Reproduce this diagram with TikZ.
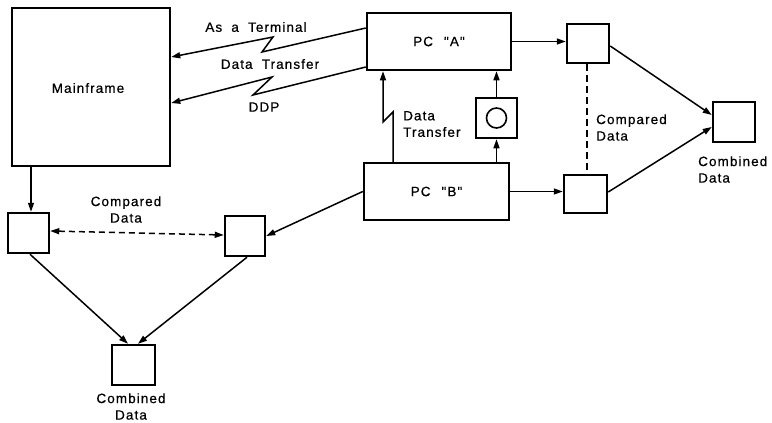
\documentclass[tikz,border=0pt]{standalone}
\usepackage{fontspec}
\setmainfont{Liberation Sans}[LetterSpace=8, WordSpace=1.9, Ligatures=TeXOff, FakeBold=0.6]
\usetikzlibrary{arrows.meta}
\begin{document}
\begin{tikzpicture}[x=1pt,y=-1pt,
  box/.style={draw, line width=2.5pt, inner sep=0pt, rectangle},
  lbl/.style={font=\fontsize{13.5}{16.5}\selectfont, inner sep=0pt},
  conn/.style={line width=1.5pt},
  arr/.style={conn, -{Triangle[length=9pt,width=6pt]}},
  darr/.style={conn, dashed, dash pattern=on 6pt off 4pt, {Triangle[length=9pt,width=6pt]}-{Triangle[length=9pt,width=6pt]}},
  dline/.style={conn, line width=2pt, dash pattern=on 7pt off 4pt}]
\useasboundingbox (0,0) rectangle (772,423);
% boxes
\node[box, minimum width=158pt, minimum height=158pt] (mf) at (91,87) {};
\node[lbl] (mft) at (88,88) {Mainframe};
\node[box, minimum width=144pt, minimum height=57pt, lbl] (pca) at (439,41.5) {PC\hspace{11pt}"A"};
\node[box, minimum width=145pt, minimum height=57pt, lbl] (pcb) at (436.5,191.5) {PC\hspace{11pt}"B"};
\node[box, minimum width=42pt, minimum height=39pt] (sqa) at (588,43.5) {};
\node[box, minimum width=43pt, minimum height=38pt] (sqb) at (585.5,194) {};
\node[box, minimum width=42pt, minimum height=40pt] (comR) at (734,122) {};
\node[box, minimum width=41pt, minimum height=40pt] (circ) at (496.5,118) {};
\node[draw, circle, line width=1.6pt, minimum size=20pt, inner sep=0pt] (disk) at (circ.center) {};
\node[box, minimum width=41pt, minimum height=40pt] (sqL) at (28.5,233) {};
\node[box, minimum width=40pt, minimum height=40pt] (sqM) at (245,236) {};
\node[box, minimum width=43pt, minimum height=40pt] (comB) at (133.5,365) {};
% labels
\node[lbl] (t1) at (256,27) {As a Terminal};
\node[lbl] (t2) at (270,64) {Data Transfer};
\node[lbl] (t3) at (264,107) {DDP};
\node[lbl, align=left, anchor=west] (t4) at (403,124) {Data\\Transfer};
\node[lbl, align=left, anchor=west] (t5) at (596,127.5) {Compared\\Data};
\node[lbl, align=left, anchor=west] (t6) at (698,169.5) {Combined\\Data};
\node[lbl, align=center] (t7) at (126,209.5) {Compared\\Data};
\node[lbl, align=center] (t8) at (131,406.5) {Combined\\Data};
% lightning connectors
\draw[arr] ([yshift=13.5pt]pca.west) -- (262,52) -- (273,37) -- ([yshift=30pt]mf.east);
\draw[arr] ([yshift=-25.5pt]pca.west) -- (253,95) -- (272,77) -- ([yshift=-16pt]mf.east);
\draw[arr] ([xshift=-43.5pt]pcb.north) -- (393,112) -- (383,122) -- ([xshift=-56pt]pca.south);
% straight connectors
\draw[arr] (pcb.north -| circ.south) -- (circ.south);
\draw[arr] (circ.north) -- (circ.north |- pca.south);
\draw[arr] (pca.east) -- (pca.east -| sqa.west);
\draw[arr] (pcb.east) -- (pcb.east -| sqb.west);
\draw[dline] ([xshift=-1pt]sqa.south) -- ([xshift=-1pt]sqa.south |- sqb.north);
\draw[arr] ([yshift=-2.5pt]sqa.east) -- ([yshift=7pt]comR.west);
\draw[arr] ([yshift=2pt]sqb.east) -- ([yshift=-5pt]comR.west);
\coordinate (mfs) at ([xshift=-60pt]mf.south);
\draw[arr] (mfs) -- (mfs |- sqL.north);
\draw[darr] ([yshift=2pt]sqL.east) -- ([yshift=1pt]sqM.west);
\draw[arr] (pcb.west) -- (sqM.east);
\draw[arr] ([xshift=1.5pt]sqL.south) -- ([xshift=-5.5pt]comB.north);
\draw[arr] ([xshift=2pt]sqM.south) -- ([xshift=4.5pt]comB.north);
\end{tikzpicture}
\end{document}
